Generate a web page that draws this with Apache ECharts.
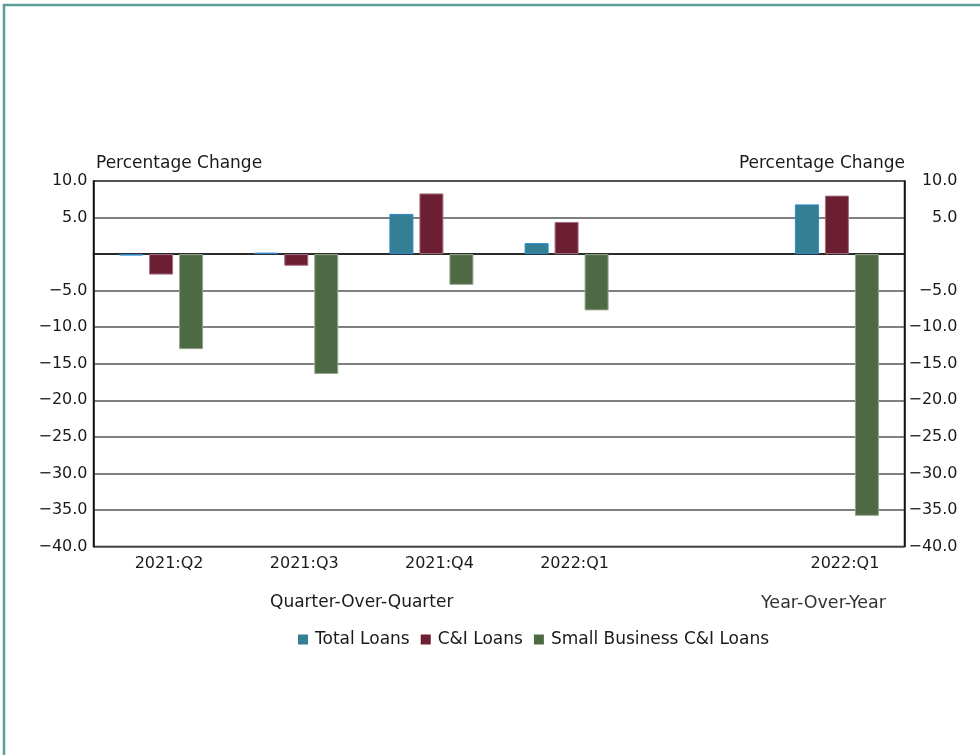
<!DOCTYPE html>
<html>
<head>
<meta charset="utf-8">
<script src="https://cdn.jsdelivr.net/npm/echarts@6/dist/echarts.min.js"></script>
<style>
html,body{margin:0;padding:0;background:#fff;}
#main{width:980px;height:755px;}
</style>
</head>
<body>
<div id="main"></div>
<script>
const categories = ['2021:Q2', '2021:Q3', '2021:Q4', '2022:Q1', '', '2022:Q1'];
const totalLoans = [-0.2, 0.2, 5.5, 1.5, null, 6.8];
const ciLoans = [-2.8, -1.6, 8.3, 4.4, null, 8.0];
const smallBizLoans = [-13.0, -16.4, -4.2, -7.7, null, -35.8];
const seriesNames = ['Total Loans', 'C&I Loans', 'Small Business C&I Loans'];
const axisTitle = 'Percentage Change';
const groupLabels = ['Quarter-Over-Quarter', 'Year-Over-Year'];

const FONT = 'DejaVu Sans';
const chart = echarts.init(document.getElementById('main'), null, {renderer: 'canvas'});

function fmt(v) {
  if (v === 0) return '';
  const s = Math.abs(v).toFixed(1);
  return v < 0 ? '\u2212' + s : s;
}

const yCommon = {
  type: 'value', min: -40, max: 10, interval: 5,
  axisLine: {show: true, lineStyle: {color: '#111', width: 1.5}},
  axisTick: {show: false},
  splitLine: {show: false},
  axisLabel: {formatter: fmt, color: '#1a1a1a', fontFamily: FONT, fontSize: 16}
};

const option = {
  backgroundColor: '#fff',
  animation: false,
  textStyle: {fontFamily: FONT},
  grid: {left: 93.5, right: 75.5, top: 181, bottom: 208.5, show: true, borderColor: '#111', borderWidth: 1.5, containLabel: false},
  legend: {
    data: seriesNames,
    left: 293, top: 626,
    icon: 'rect', itemWidth: 10, itemHeight: 10, itemGap: 11,
    itemStyle: {borderWidth: 0},
    textStyle: {fontFamily: FONT, fontSize: 17, color: '#1a1a1a', padding: [0, 0, 0, 2]}
  },
  xAxis: {
    type: 'category', data: categories,
    axisLine: {show: true, lineStyle: {color: '#111', width: 1.5}},
    axisTick: {show: false},
    axisLabel: {color: '#1a1a1a', fontFamily: FONT, fontSize: 16, margin: 9, padding: [0, 0, 0, 16], interval: 0}
  },
  yAxis: [
    Object.assign({}, yCommon, {
      position: 'left',
      splitLine: {show: true, lineStyle: {color: '#555', width: 1.5}},
      axisLabel: Object.assign({}, yCommon.axisLabel, {margin: 6})
    }),
    Object.assign({}, yCommon, {
      position: 'right',
      axisLabel: Object.assign({}, yCommon.axisLabel, {margin: 53, align: 'right'})
    })
  ],
  graphic: [
    {type: 'line', shape: {x1: 3, y1: 5, x2: 980, y2: 5}, style: {stroke: '#5b9e98', lineWidth: 2.5}},
    {type: 'line', shape: {x1: 4, y1: 4, x2: 4, y2: 755}, style: {stroke: '#5b9e98', lineWidth: 2.5}},
    {type: 'text', left: 96, top: 155, style: {text: axisTitle, font: '17px "DejaVu Sans"', fill: '#1a1a1a'}},
    {type: 'text', right: 75, top: 155, style: {text: axisTitle, font: '17px "DejaVu Sans"', fill: '#1a1a1a', textAlign: 'right'}},
    {type: 'text', left: 270, top: 594, style: {text: groupLabels[0], font: '17px "DejaVu Sans"', fill: '#1a1a1a'}},
    {type: 'text', left: 761, top: 594, style: {text: groupLabels[1], font: '17.5px "DejaVu Sans"', fill: '#333'}}
  ],
  series: [
    {name: seriesNames[0], type: 'bar', data: totalLoans, barWidth: 24, barGap: '25%',
     itemStyle: {color: '#347f94', borderColor: '#2a8acb', borderWidth: 1}},
    {name: seriesNames[1], type: 'bar', data: ciLoans, barWidth: 24, barGap: '25%',
     itemStyle: {color: '#6c1f33', borderColor: '#a3707e', borderWidth: 1}},
    {name: seriesNames[2], type: 'bar', data: smallBizLoans, barWidth: 24, barGap: '25%',
     itemStyle: {color: '#4e6a45', borderColor: '#93a68c', borderWidth: 1}}
  ]
};
chart.setOption(option);
</script>
</body>
</html>
